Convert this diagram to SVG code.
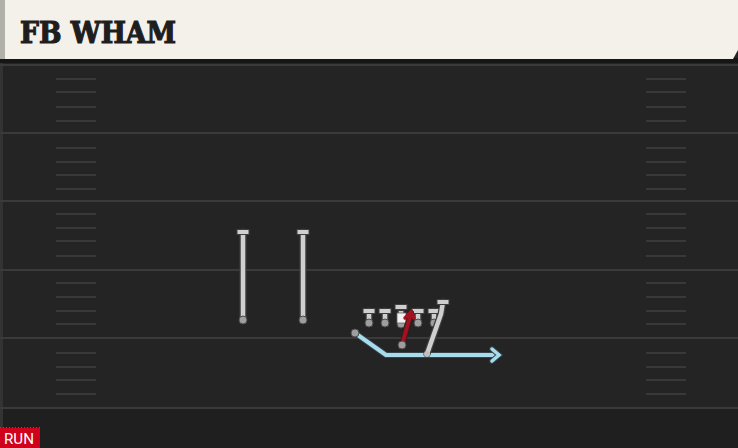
<svg xmlns="http://www.w3.org/2000/svg" width="738" height="448" viewBox="0 0 738 448">
<style>
.yard{stroke:#3a3a3a;stroke-width:2}
.hash{stroke:#393939;stroke-width:2}
.stemO{stroke:#3e3e3e;stroke-width:7;stroke-linecap:round;fill:none}
.stem{stroke:#cfcfcf;stroke-width:4.5;stroke-linecap:butt;fill:none}
.bar{fill:#cfcfcf;stroke:#3e3e3e;stroke-width:1}
.dot{fill:#9e9e9e;stroke:#4a4a4a;stroke-width:1}
</style>
<defs>
<g id="hashset">
<line class="hash" x1="56" x2="96" y1="0" y2="0"/>
<line class="hash" x1="646" x2="686" y1="0" y2="0"/>
</g>
</defs>
<rect x="0" y="0" width="738" height="448" fill="#242424"/>
<rect x="0" y="408" width="738" height="40" fill="#1f1f1f"/>
<rect x="0" y="60" width="3" height="388" fill="#333"/>
<g id="field">
<line class="yard" x1="0" x2="738" y1="65" y2="65"/>
<line class="yard" x1="0" x2="738" y1="133" y2="133"/>
<line class="yard" x1="0" x2="738" y1="201" y2="201"/>
<line class="yard" x1="0" x2="738" y1="270" y2="270"/>
<line class="yard" x1="0" x2="738" y1="338" y2="338"/>
<line class="yard" x1="0" x2="738" y1="408" y2="408"/>
<use href="#hashset" y="79"/><use href="#hashset" y="92"/><use href="#hashset" y="107"/><use href="#hashset" y="121"/>
<use href="#hashset" y="148"/><use href="#hashset" y="162"/><use href="#hashset" y="175"/><use href="#hashset" y="189"/>
<use href="#hashset" y="214"/><use href="#hashset" y="228"/><use href="#hashset" y="241"/><use href="#hashset" y="256"/>
<use href="#hashset" y="283"/><use href="#hashset" y="297"/><use href="#hashset" y="311"/><use href="#hashset" y="324"/>
<use href="#hashset" y="353"/><use href="#hashset" y="367"/><use href="#hashset" y="380"/><use href="#hashset" y="394"/>
</g>
<g id="header">
<rect x="0" y="58" width="738" height="5" fill="#161616"/>
<polygon points="0,0 738,0 738,50 733,59 0,59" fill="#f4f1ea"/>
<rect x="0" y="0" width="5" height="59" fill="#b0b1a9"/>
<text x="20" y="43" font-family="'DejaVu Serif','Liberation Serif',serif" font-weight="900" font-size="29" fill="#1e1e1e" stroke="#1e1e1e" stroke-width="1.2" textLength="156" lengthAdjust="spacingAndGlyphs">FB WHAM</text>
</g>
<g id="connectors">
<polyline points="355,333 386,355 497,355" fill="none" stroke="#34444a" stroke-width="6" stroke-linejoin="round"/>
<polyline points="355,333 386,355 497,355" fill="none" stroke="#a8dbec" stroke-width="4" stroke-linejoin="round"/>
<polyline points="492,349 499,355 492,361" fill="none" stroke="#34444a" stroke-width="5.5" stroke-linecap="round"/>
<polyline points="492,349 499,355 492,361" fill="none" stroke="#a8dbec" stroke-width="3.5" stroke-linecap="round"/>
</g>
<g id="wr1">
<line class="stemO" x1="243" y1="232" x2="243" y2="320"/>
<line class="stem" x1="243" y1="232" x2="243" y2="320"/>
<rect class="bar" x="237" y="229.5" width="12" height="5"/>
<circle class="dot" cx="243" cy="320" r="4"/>
</g>
<g id="wr2">
<line class="stemO" x1="303" y1="232" x2="303" y2="320"/>
<line class="stem" x1="303" y1="232" x2="303" y2="320"/>
<rect class="bar" x="297" y="229.5" width="12" height="5"/>
<circle class="dot" cx="303" cy="320" r="4"/>
</g>
<g id="lt">
<line class="stemO" x1="369" y1="311" x2="369" y2="322"/>
<line class="stem" x1="369" y1="311" x2="369" y2="322"/>
<rect class="bar" x="363" y="308.5" width="12" height="5"/>
<circle class="dot" cx="369" cy="323" r="4"/>
</g>
<g id="lg">
<line class="stemO" x1="385" y1="311" x2="385" y2="322"/>
<line class="stem" x1="385" y1="311" x2="385" y2="322"/>
<rect class="bar" x="379" y="308.5" width="12" height="5"/>
<circle class="dot" cx="385" cy="323" r="4"/>
</g>
<g id="c">
<line class="stemO" x1="401" y1="311" x2="401" y2="322"/>
<line class="stem" x1="401" y1="311" x2="401" y2="322"/>
<rect class="bar" x="395" y="304.5" width="12" height="5"/>
<circle class="dot" cx="401" cy="324" r="4"/>
<rect x="397" y="313" width="9" height="10" fill="#f2f2f2" stroke="#666" stroke-width="0.8"/>
</g>
<g id="rg">
<line class="stemO" x1="418" y1="311" x2="418" y2="322"/>
<line class="stem" x1="418" y1="311" x2="418" y2="322"/>
<rect class="bar" x="412" y="308.5" width="12" height="5"/>
<circle class="dot" cx="418" cy="323" r="4"/>
</g>
<g id="rt">
<line class="stemO" x1="434" y1="311" x2="434" y2="322"/>
<line class="stem" x1="434" y1="311" x2="434" y2="322"/>
<rect class="bar" x="428" y="308.5" width="12" height="5"/>
<circle class="dot" cx="434" cy="323" r="4"/>
</g>
<g id="fb">
<polyline class="stemO" points="427,354 441,314 443,302"/>
<polyline class="stem" points="427,354 441,314 443,302" stroke-linejoin="round"/>
<rect class="bar" x="437" y="299.5" width="12" height="5"/>
<circle cx="427" cy="354" r="3" fill="#bfbfbf"/>
</g>
<g id="rb">
<line x1="402" y1="345" x2="411" y2="313" stroke="#3a1a1c" stroke-width="6" stroke-linecap="round"/>
<line x1="402" y1="345" x2="411" y2="313" stroke="#a4121f" stroke-width="4" stroke-linecap="round"/>
<polyline points="405,318 411,312 414,318" fill="none" stroke="#a4121f" stroke-width="3.5" stroke-linecap="round"/>
<circle class="dot" cx="402" cy="345" r="4"/>
</g>
<g id="qb">
<circle class="dot" cx="355" cy="333" r="4"/>
</g>
<g id="badge">
<line x1="0" y1="427.5" x2="40" y2="427.5" stroke="#666" stroke-width="1" stroke-dasharray="1 2"/>
<rect x="0" y="428" width="40" height="20" fill="#d0021b"/>
<text x="4" y="444" font-family="Roboto,'Liberation Sans',sans-serif" font-size="15" fill="#ffffff" textLength="30" lengthAdjust="spacingAndGlyphs">RUN</text>
</g>
</svg>
